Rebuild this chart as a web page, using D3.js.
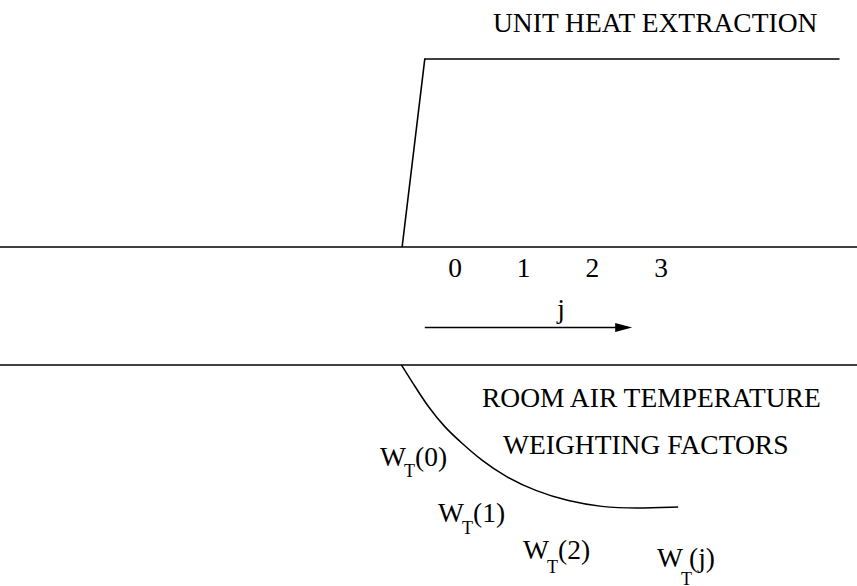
<!DOCTYPE html>
<html>
<head>
<meta charset="utf-8">
<script src="https://cdn.jsdelivr.net/npm/d3@7"></script>
<style>
  body { margin: 0; background: #fff; }
  svg text { font-family: "Liberation Serif", "Times New Roman", Times, serif; fill: #000; }
</style>
</head>
<body>
<div class="diagram"></div>
<script>
const w = 857,
  h = 586;

// time index j (hours) and the unit heat extraction step
const stepJ = [-0.77, -0.44, 5.6];
const stepQ = [0, 1, 1];

// room air temperature weighting factor response (negative = drop)
const curveJ = [-0.78, -0.58, -0.39, -0.15, 0.1, 0.39, 0.73, 1.17, 1.65, 2.14, 2.62, 3.25];
const curveW = [0, -0.15, -0.29, -0.43, -0.54, -0.66, -0.77, -0.87, -0.94, -0.98, -0.99, -0.98];

const jTicks = [0, 1, 2, 3];
const arrowJ = [-0.44, 2.58];
const wLabels = ["0", "1", "2", "j"];

// annotation placement (pixels): x, baseline, subscript drop
const wLabelPos = [
  [380, 466, 11],
  [438, 522, 12],
  [523, 559, 14],
  [657, 567, 18],
];

const svg = d3
  .select(".diagram")
  .append("svg")
  .attr("width", w)
  .attr("height", h);

const xScale = d3.scaleLinear().domain([0, 3]).range([455, 661]);
const yTop = d3.scaleLinear().domain([0, 1]).range([247, 59]);
const yBot = d3.scaleLinear().domain([0, -1]).range([365, 510]);

// baselines
[yTop(0), yBot(0)].forEach((y) => {
  svg
    .append("line")
    .attr("x1", 0)
    .attr("x2", w)
    .attr("y1", y)
    .attr("y2", y)
    .attr("stroke", "#000")
    .attr("stroke-width", 1.6);
});

// unit heat extraction
const stepLine = d3
  .line()
  .x((d, i) => xScale(stepJ[i]))
  .y((d) => yTop(d));

svg
  .append("path")
  .attr("d", stepLine(stepQ))
  .attr("fill", "none")
  .attr("stroke", "#000")
  .attr("stroke-width", 1.6);

svg
  .append("text")
  .attr("x", 493)
  .attr("y", 32)
  .style("font-size", "27.5px")
  .text("UNIT HEAT EXTRACTION");

// j tick labels
svg
  .selectAll("text.tick")
  .data(jTicks)
  .enter()
  .append("text")
  .attr("class", "tick")
  .attr("x", (d) => xScale(d))
  .attr("y", 277)
  .attr("text-anchor", "middle")
  .style("font-size", "27.5px")
  .text((d) => d);

// j arrow
const ax0 = xScale(arrowJ[0]),
  ax1 = xScale(arrowJ[1]),
  ay = 327.5;
svg
  .append("line")
  .attr("x1", ax0)
  .attr("x2", ax1 - 14)
  .attr("y1", ay)
  .attr("y2", ay)
  .attr("stroke", "#000")
  .attr("stroke-width", 1.6);
svg
  .append("path")
  .attr("d", `M${ax1},${ay} L${ax1 - 17},${ay - 4.5} L${ax1 - 17},${ay + 4.5} Z`)
  .attr("fill", "#000");
svg
  .append("text")
  .attr("x", 561)
  .attr("y", 318)
  .attr("text-anchor", "middle")
  .style("font-size", "27.5px")
  .text("j");

// weighting factor curve
const wLine = d3
  .line()
  .x((d, i) => xScale(curveJ[i]))
  .y((d) => yBot(d))
  .curve(d3.curveBasis);

svg
  .append("path")
  .attr("d", wLine(curveW))
  .attr("fill", "none")
  .attr("stroke", "#000")
  .attr("stroke-width", 1.5);

svg
  .append("text")
  .attr("x", 482)
  .attr("y", 407)
  .style("font-size", "27.5px")
  .text("ROOM AIR TEMPERATURE");

svg
  .append("text")
  .attr("x", 503)
  .attr("y", 454)
  .style("font-size", "27.5px")
  .text("WEIGHTING FACTORS");

// W_T(j) labels
wLabels.forEach((lab, i) => {
  const [x, y, sub] = wLabelPos[i];
  const t = svg.append("text").attr("x", x).attr("y", y).style("font-size", "27.5px");
  t.append("tspan").text("W");
  t.append("tspan")
    .attr("x", x + 24)
    .attr("dy", sub)
    .style("font-size", "18px")
    .text("T");
  t.append("tspan")
    .attr("x", lab === "j" ? x + 32 : x + 35)
    .attr("dy", -sub)
    .text("(" + lab + ")");
});
</script>
</body>
</html>
